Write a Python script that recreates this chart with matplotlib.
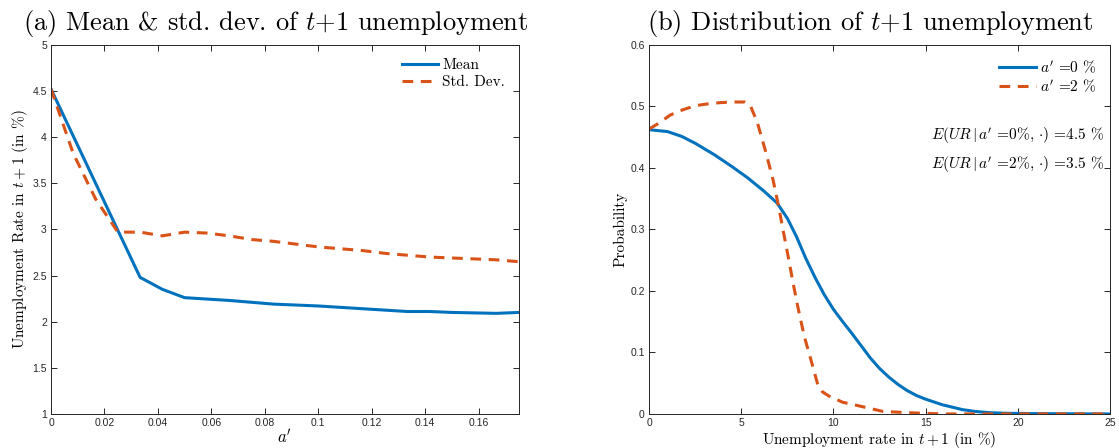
import numpy as np
import matplotlib
matplotlib.use("Agg")
import matplotlib.pyplot as plt

# panel (a): mean and std. dev. of t+1 unemployment against a'
a_grid = [0, 0.00833, 0.01667, 0.025, 0.03333, 0.04167, 0.05, 0.05833, 0.06667,
          0.075, 0.08333, 0.09167, 0.1, 0.10833, 0.11667, 0.125, 0.13333,
          0.14167, 0.15, 0.15833, 0.16667, 0.175]
ur_mean = [4.52, 4.01, 3.50, 2.99, 2.48, 2.35, 2.26, 2.245, 2.23, 2.21, 2.19,
           2.18, 2.17, 2.155, 2.14, 2.125, 2.11, 2.11, 2.10, 2.095, 2.09, 2.10]
ur_std = [4.52, 3.82, 3.33, 2.97, 2.97, 2.93, 2.97, 2.96, 2.93, 2.89, 2.87,
          2.84, 2.81, 2.79, 2.77, 2.74, 2.72, 2.70, 2.69, 2.68, 2.67, 2.65]

# panel (b): distribution of t+1 unemployment
ur_blue = [0, 1.0, 1.78, 2.5, 3.56, 4.5, 5.34, 6.2, 6.94, 7.5, 8.0, 8.5, 9.0,
           9.5, 10.0, 10.5, 11.0, 11.5, 12.0, 12.5, 13.0, 13.5, 14.0, 14.5, 15.0,
           15.9, 17.0, 17.7, 18.5, 19.5, 21.0, 25.0]
p_blue = [0.462, 0.459, 0.451, 0.440, 0.421, 0.402, 0.384, 0.363, 0.343, 0.318,
          0.288, 0.253, 0.222, 0.194, 0.170, 0.150, 0.131, 0.111, 0.091, 0.074,
          0.060, 0.048, 0.038, 0.030, 0.024, 0.015, 0.007, 0.004, 0.002, 0.001,
          0.0005, 0.0]
ur_red = [0, 0.5, 1.16, 1.8, 2.5, 3.2, 3.85, 4.6, 5.2, 5.5, 5.88, 6.32, 6.73,
          7.03, 7.3, 7.57, 7.83, 8.07, 8.42, 8.78, 9.13, 9.4, 9.76, 10.5, 11.4,
          12.7, 14.5, 16.0, 25.0]
p_red = [0.463, 0.472, 0.486, 0.494, 0.501, 0.504, 0.506, 0.507, 0.507, 0.501,
         0.473, 0.427, 0.380, 0.337, 0.294, 0.252, 0.210, 0.174, 0.126, 0.088,
         0.050, 0.036, 0.029, 0.019, 0.013, 0.004, 0.0015, 0.0, 0.0]

blue = "#0072BD"
red = "#D95319"

plt.rcParams["font.family"] = "serif"
plt.rcParams["font.serif"] = ["cmr10"]
plt.rcParams["mathtext.fontset"] = "cm"
plt.rcParams["axes.formatter.use_mathtext"] = True
plt.rcParams["axes.edgecolor"] = "#262626"
plt.rcParams["axes.linewidth"] = 0.7


def style_axes(ax):
    ax.tick_params(direction="in", length=4, width=0.7, top=True, right=True,
                   labelsize=7.5, colors="#262626", labelfontfamily="Liberation Sans",
                   pad=3)


fig = plt.figure(figsize=(11.19, 4.48), dpi=100)
ax1 = fig.add_axes([0.0456, 0.076, 0.418, 0.824])
ax2 = fig.add_axes([0.580, 0.076, 0.412, 0.824])

ax1.plot(a_grid, ur_mean, color=blue, lw=2.2, label="Mean")
ax1.plot(a_grid, ur_std, color=red, lw=2.2, dashes=(3.5, 2.5), label="Std. Dev.")
ax1.set_xlim(0, 0.175)
ax1.set_ylim(1, 5)
ax1.set_xticks(np.arange(0, 0.161, 0.02))
ax1.set_xticklabels(["0", "0.02", "0.04", "0.06", "0.08", "0.1", "0.12", "0.14", "0.16"])
ax1.set_yticks(np.arange(1, 5.01, 0.5))
ax1.set_yticklabels(["1", "1.5", "2", "2.5", "3", "3.5", "4", "4.5", "5"])
style_axes(ax1)
ax1.set_xlabel(r"$a'$", fontsize=12, labelpad=0)
ax1.set_ylabel(r"Unemployment Rate in $t+1$ (in %)", fontsize=11, labelpad=2)
ax1.set_title(r"(a) Mean & std. dev. of $t$+1 unemployment", fontsize=19, pad=11,
              x=0.48)
ax1.legend(loc="upper right", frameon=False, fontsize=11, handlelength=2.4,
           handletextpad=0.25, borderaxespad=0.5, labelspacing=0.2)

ax2.plot(ur_blue, p_blue, color=blue, lw=2.2, label=r"$a'$ =0 %")
ax2.plot(ur_red, p_red, color=red, lw=2.2, dashes=(3.5, 2.5), label=r"$a'$ =2 %")
ax2.set_xlim(0, 25)
ax2.set_ylim(0, 0.6)
ax2.set_xticks([0, 5, 10, 15, 20, 25])
ax2.set_xticklabels(["0", "5", "10", "15", "20", "25"])
ax2.set_yticks(np.arange(0, 0.61, 0.1))
ax2.set_yticklabels(["0", "0.1", "0.2", "0.3", "0.4", "0.5", "0.6"])
style_axes(ax2)
ax2.set_xlabel(r"Unemployment rate in $t+1$ (in %)", fontsize=11, labelpad=1)
ax2.set_ylabel("Probability", fontsize=11, labelpad=2)
ax2.set_title(r"(b) Distribution of $t$+1 unemployment", fontsize=19, pad=11,
              x=0.48)
ax2.legend(loc="upper right", frameon=False, fontsize=11, handlelength=2.4,
           handletextpad=0.25, borderaxespad=0.5, labelspacing=0.2)
ax2.text(24.7, 0.452, r"$E(UR\,|\,a'$ =0%, $\cdot)$ =4.5 %", ha="right", va="center",
         fontsize=11)
ax2.text(24.7, 0.405, r"$E(UR\,|\,a'$ =2%, $\cdot)$ =3.5 %", ha="right", va="center",
         fontsize=11)

fig.savefig("out.png", dpi=100)
